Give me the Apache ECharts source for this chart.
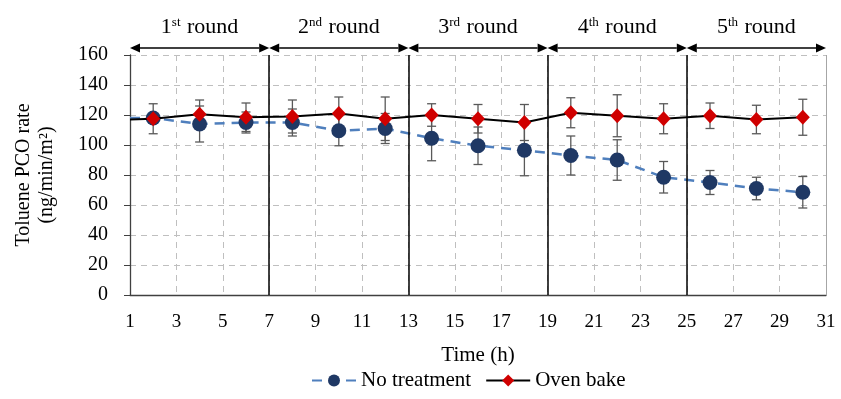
<!DOCTYPE html>
<html lang="en">
<head>
    <meta charset="UTF-8">
    <title>Toluene PCO rate</title>
    <script src="https://cdn.jsdelivr.net/npm/echarts@6.0.0/dist/echarts.min.js"></script>
</head>
<body style="margin:0">
<div id="main" style="width: 841px;height: 399px"></div>
</body>

<script>
    // hours at which samples were taken (first point = start of run, no marker)
    var hours = [1, 2, 4, 6, 8, 10, 12, 14, 16, 18, 20, 22, 24, 26, 28, 30];

    var noTreatment = [118, 118, 114, 115, 115, 109.5, 111, 104.5, 99.5, 96.5, 93, 90, 78.5, 75, 71, 68.5];
    var noTreatmentErr = [0, 3, 12, 7, 9, 10, 10, 15, 12.5, 17, 13, 13.5, 10.5, 8, 7.5, 10.5];

    var ovenBake = [117, 117.5, 120.5, 118.5, 119, 121, 117.5, 120, 117.5, 115, 121.5, 119.5, 117.5, 119.5, 117, 118.5];
    var ovenBakeErr = [0, 10, 9.5, 9.5, 11, 11, 14.5, 7.5, 9.5, 12, 10, 14, 10, 8.5, 9.5, 12];

    // round boundaries (h) and labels
    var roundBounds = [1, 7, 13, 19, 25, 31];
    var roundLabels = ['1{s|st} round', '2{s|nd} round', '3{s|rd} round', '4{s|th} round', '5{s|th} round'];

    var yTicks = {min: 0, max: 160, step: 20};

    var serif = 'Liberation Serif';

    function pairs(ys) {
        var out = [];
        for (var i = 0; i < hours.length; i++) {
            if (i === 0) out.push({value: [hours[i], ys[i]], symbol: 'none'});
            else out.push([hours[i], ys[i]]);
        }
        return out;
    }

    function errData(ys, errs) {
        var out = [];
        for (var i = 1; i < hours.length; i++) {
            out.push([hours[i], ys[i] - errs[i], ys[i] + errs[i]]);
        }
        return out;
    }

    var rounds = [];
    for (var r = 0; r < roundLabels.length; r++) {
        rounds.push([roundBounds[r], roundBounds[r + 1], r]);
    }

    var bounds = [];
    for (var k = 1; k < roundBounds.length - 1; k++) {
        bounds.push({xAxis: roundBounds[k]});
    }
    bounds.push({xAxis: roundBounds[roundBounds.length - 1], lineStyle: {color: '#a6a6a6', width: 1}});

    function renderErr(params, api) {
        var x = api.value(0);
        var lo = api.coord([x, api.value(1)]);
        var hi = api.coord([x, api.value(2)]);
        var cw = 4.5;
        var st = {stroke: '#595959', lineWidth: 1.3};
        return {
            type: 'group',
            children: [
                {type: 'line', shape: {x1: lo[0], y1: lo[1], x2: hi[0], y2: hi[1]}, style: st},
                {type: 'line', shape: {x1: lo[0] - cw, y1: lo[1], x2: lo[0] + cw, y2: lo[1]}, style: st},
                {type: 'line', shape: {x1: hi[0] - cw, y1: hi[1], x2: hi[0] + cw, y2: hi[1]}, style: st}
            ]
        };
    }

    var arrowY = 164.7, labelY = 178.5;

    function renderRound(params, api) {
        var a = api.coord([api.value(0), arrowY]);
        var b = api.coord([api.value(1), arrowY]);
        var t = api.coord([(api.value(0) + api.value(1)) / 2, labelY]);
        var hl = 10, hw = 4.5;
        return {
            type: 'group',
            children: [
                {type: 'line', shape: {x1: a[0] + hl, y1: a[1], x2: b[0] - hl, y2: b[1]},
                    style: {stroke: '#000', lineWidth: 1.5}},
                {type: 'polygon', shape: {points: [[a[0], a[1]], [a[0] + hl, a[1] - hw], [a[0] + hl, a[1] + hw]]},
                    style: {fill: '#000'}},
                {type: 'polygon', shape: {points: [[b[0], b[1]], [b[0] - hl, b[1] - hw], [b[0] - hl, b[1] + hw]]},
                    style: {fill: '#000'}},
                {type: 'text', x: t[0], y: t[1], style: {
                    text: roundLabels[api.value(2)],
                    fontFamily: serif, fontSize: 22, fill: '#000',
                    align: 'center', verticalAlign: 'middle',
                    rich: {s: {fontFamily: serif, fontSize: 13, fill: '#000', verticalAlign: 'top', padding: [0, 1, 9, 0]}}
                }}
            ]
        };
    }

    var myChart = echarts.init(document.getElementById('main'));

    var option = {
        animation: false,
        backgroundColor: '#fff',
        grid: {left: 130, right: 15, top: 55, bottom: 104},
        legend: {
            data: ['No treatment', 'Oven bake'],
            bottom: 3,
            left: 306,
            itemWidth: 44,
            itemHeight: 15,
            itemGap: 14,
            textStyle: {fontFamily: serif, fontSize: 21, color: '#000'}
        },
        xAxis: {
            type: 'value',
            min: 1,
            max: 31,
            interval: 2,
            name: 'Time (h)',
            nameLocation: 'middle',
            nameGap: 50,
            nameTextStyle: {fontFamily: serif, fontSize: 21, color: '#000'},
            axisLine: {lineStyle: {color: '#404040', width: 1.3}},
            axisTick: {show: false},
            axisLabel: {fontFamily: serif, fontSize: 19, color: '#000', margin: 18},
            splitLine: {show: true, lineStyle: {color: '#bfbfbf', type: [6, 5], width: 1}}
        },
        yAxis: {
            type: 'value',
            min: yTicks.min,
            max: yTicks.max,
            interval: yTicks.step,
            name: 'Toluene PCO rate\n(ng/min/m²)',
            nameLocation: 'middle',
            nameGap: 72,
            nameTextStyle: {fontFamily: serif, fontSize: 20, color: '#000', lineHeight: 23},
            axisLine: {show: true, lineStyle: {color: '#404040', width: 1.3}},
            axisTick: {show: true, inside: false, length: 6, lineStyle: {color: '#404040'}},
            axisLabel: {fontFamily: serif, fontSize: 20, color: '#000', margin: 22},
            splitLine: {show: true, lineStyle: {color: '#bfbfbf', type: [6, 5], width: 1}}
        },
        series: [
            {
                name: 'errNo',
                type: 'custom',
                renderItem: renderErr,
                data: errData(noTreatment, noTreatmentErr),
                encode: {x: 0, y: [1, 2]},
                z: 2,
                silent: true
            },
            {
                name: 'errOven',
                type: 'custom',
                renderItem: renderErr,
                data: errData(ovenBake, ovenBakeErr),
                encode: {x: 0, y: [1, 2]},
                z: 2,
                silent: true
            },
            {
                name: 'No treatment',
                type: 'line',
                data: pairs(noTreatment),
                symbol: 'circle',
                symbolSize: 15,
                lineStyle: {color: '#4f7fbd', width: 2.5, type: [10, 7]},
                itemStyle: {color: '#1f3864'},
                z: 3
            },
            {
                name: 'Oven bake',
                type: 'line',
                data: pairs(ovenBake),
                symbol: 'diamond',
                symbolSize: [14, 15],
                lineStyle: {color: '#000', width: 2},
                itemStyle: {color: '#d00000'},
                z: 4,
                markLine: {
                    silent: true,
                    symbol: 'none',
                    label: {show: false},
                    lineStyle: {color: '#000', width: 1.5, type: 'solid'},
                    data: bounds
                }
            },
            {
                name: 'rounds',
                type: 'custom',
                renderItem: renderRound,
                data: rounds,
                encode: {x: 0},
                clip: false,
                silent: true
            }
        ]
    };

    myChart.setOption(option);

</script>

</html>
